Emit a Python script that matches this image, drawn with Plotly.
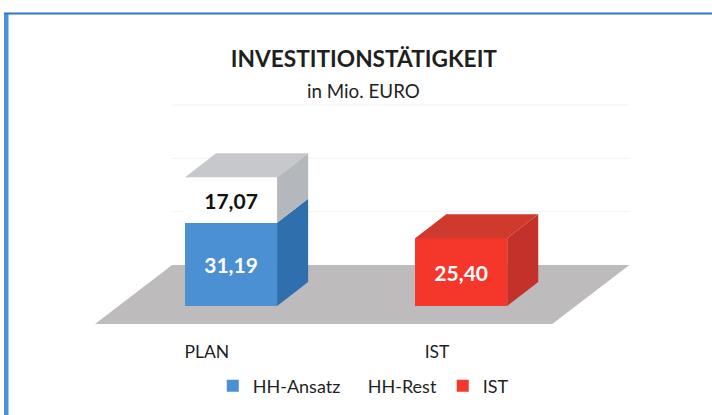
import plotly.graph_objects as go

# Data
categories = ["PLAN", "IST"]
positions = [0, 1]
hh_ansatz = [31.19, None]
hh_rest = [17.07, None]
ist = [None, 25.40]
grid_ticks = [0, 20, 40, 60]

# Oblique 3D look (styling constants, in axis units)
BAR_W = 0.40
DX, DY = 0.135, 9.0
FLOOR_Y0, FLOOR_Y1 = -6.75, 15.37
FLOOR_X0, FLOOR_X1 = -0.591, 1.396
FLOOR_DX = 0.335
FONT = "Lato"
INK = "#1f1f1f"


def label(values):
    return [("" if v is None else f"{v:.2f}".replace(".", ",")) for v in values]


fig = go.Figure()

for name, vals, col, tcol in [
    ("HH-Ansatz", hh_ansatz, "#4a90d2", "white"),
    ("HH-Rest", hh_rest, "#ffffff", "#111111"),
    ("IST", ist, "#f5362b", "white"),
]:
    fig.add_bar(
        x=positions, y=vals, name=name, width=BAR_W,
        marker=dict(color=col, line=dict(width=0)),
        text=label(vals), textposition="inside", insidetextanchor="middle",
        textangle=0, constraintext="none",
        textfont=dict(family=FONT, size=21, color=tcol, weight="bold"),
        hoverinfo="skip",
    )


def face(xs, ys, color):
    fig.add_scatter(
        x=xs + xs[:1], y=ys + ys[:1], mode="lines", fill="toself",
        fillcolor=color, line=dict(width=0, color=color),
        showlegend=False, hoverinfo="skip",
    )


def box(x, y0, y1, side, top=None):
    xr = x + BAR_W / 2
    xl = x - BAR_W / 2
    face([xr, xr + DX, xr + DX, xr], [y0, y0 + DY, y1 + DY, y1], side)
    if top:
        face([xl, xr, xr + DX, xl + DX], [y1, y1, y1 + DY, y1 + DY], top)


plan_x, ist_x = positions
box(plan_x, 0, hh_ansatz[0], "#2f6fae")
box(plan_x, hh_ansatz[0], hh_ansatz[0] + hh_rest[0], "#b4b7bb", "#c6c8cb")
box(ist_x, 0, ist[1], "#c4302a", "#cf3a2e")

shapes = [
    # floor
    dict(type="path", xref="x", yref="y", layer="below", line=dict(width=0),
         fillcolor="#bdbbbb",
         path=f"M{FLOOR_X0},{FLOOR_Y0} L{FLOOR_X1},{FLOOR_Y0} "
              f"L{FLOOR_X1 + FLOOR_DX},{FLOOR_Y1} L{FLOOR_X0 + FLOOR_DX},{FLOOR_Y1} Z"),
    # page rule left and top
    dict(type="rect", xref="paper", yref="paper", x0=4 / 712, x1=8.5 / 712, y0=0, y1=1 - 13 / 415,
         fillcolor="#4a92da", line=dict(width=0)),
    dict(type="rect", xref="paper", yref="paper", x0=4 / 712, x1=1, y0=1 - 14.5 / 415, y1=1 - 12.5 / 415,
         fillcolor="#2f78c8", line=dict(width=0)),
]
for t in grid_ticks[1:]:
    shapes.append(dict(type="line", xref="x", yref="y", layer="below",
                       x0=FLOOR_X0 + FLOOR_DX, x1=FLOOR_X1 + FLOOR_DX,
                       y0=FLOOR_Y1 + t, y1=FLOOR_Y1 + t,
                       line=dict(color="#f3f3f3", width=1)))

fig.update_layout(
    width=712, height=415, barmode="stack",
    margin=dict(l=0, r=0, t=0, b=0),
    paper_bgcolor="white", plot_bgcolor="white",
    font=dict(family=FONT, size=16, color=INK),
    shapes=shapes,
    title=dict(text="<b>INVESTITIONSTÄTIGKEIT</b>", x=0.511, xanchor="center",
               y=1 - 59 / 415, yanchor="middle",
               font=dict(family=FONT, size=22.7, color=INK)),
    annotations=[dict(text="in Mio. EURO", xref="paper", yref="paper",
                      x=0.511, y=1 - 90 / 415, xanchor="center", yanchor="middle",
                      showarrow=False, font=dict(family=FONT, size=18.8, color=INK))],
    xaxis=dict(range=[-1.004, 2.09], tickmode="array",
               tickvals=[p - 0.105 for p in positions], ticktext=categories,
               anchor="free", position=0.183, showgrid=False, zeroline=False,
               showline=False, ticks="", tickfont=dict(family=FONT, size=17.5, color=INK)),
    yaxis=dict(range=[-40.87, 114.7], visible=False, showgrid=False, zeroline=False),
    legend=dict(orientation="h", x=0.2988, y=1 - 386 / 415, xanchor="left", yanchor="middle",
                traceorder="normal", bgcolor="rgba(0,0,0,0)",
                entrywidth=70, entrywidthmode="pixels",
                font=dict(family=FONT, size=18, color=INK)),
)

fig.write_html("out.html", config={"displayModeBar": False},
               post_script="document.body.style.margin='0';")
